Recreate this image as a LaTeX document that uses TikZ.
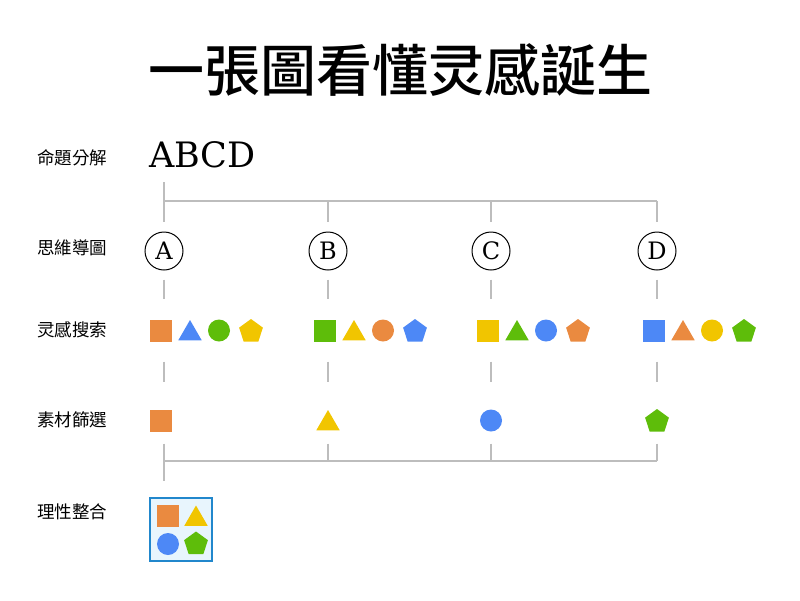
\documentclass[tikz,border=0pt]{standalone}
\usepackage{fontspec}
\newfontfamily\cjk{Noto Sans CJK TC}
\newfontfamily\cjkhead{Noto Sans CJK TC Medium}
\newfontfamily\slab{DejaVu Serif}
\usepackage{tikz}
\usetikzlibrary{shapes.geometric}
\usepackage{xcolor}

\definecolor{orng}{HTML}{EA8A40}
\definecolor{blu}{HTML}{4D88F6}
\definecolor{grn}{HTML}{5EBD0A}
\definecolor{ylw}{HTML}{F1C500}
\definecolor{lgray}{HTML}{BDBDBD}
\definecolor{boxfill}{HTML}{E8F5FD}
\definecolor{boxline}{HTML}{2187CC}

\begin{document}
\begin{tikzpicture}[x=1pt, y=-1pt,
  link/.style={draw=lgray, line width=1.5pt},
  rowlabel/.style={anchor=west, inner sep=0, font=\cjk\fontsize{17.5}{17.5}\selectfont},
  letter/.style={circle, draw, line width=1pt, minimum size=38pt, inner sep=0, font=\slab\fontsize{24}{24}\selectfont},
  sq/.style={rectangle, fill=#1, minimum size=22pt, inner sep=0},
  tri/.style={regular polygon, regular polygon sides=3, fill=#1, minimum size=27pt, inner sep=0, yshift=-3pt},
  dot/.style={circle, fill=#1, minimum size=22pt, inner sep=0},
  pent/.style={regular polygon, regular polygon sides=5, fill=#1, minimum size=25pt, inner sep=0, yshift=-1pt}]
  \useasboundingbox (0,0) rectangle (800,600);

  \node[font=\cjkhead\fontsize{56}{56}\selectfont] (title) at (400,70) {一張圖看懂灵感誕生};

  % row labels
  \node[rowlabel] (l1) at (37,158) {命題分解};
  \node[rowlabel] (l2) at (37,248) {思維導圖};
  \node[rowlabel] (l3) at (37,330) {灵感搜索};
  \node[rowlabel] (l4) at (37,420) {素材篩選};
  \node[rowlabel] (l5) at (37,512) {理性整合};

  \node[anchor=base west, inner sep=0, font=\slab\fontsize{35}{35}\selectfont] (abcd) at (149,167) {ABCD};

  % columns
  \foreach \c/\x/\ca/\cb/\cc/\cd in {A/164/orng/blu/grn/ylw, B/328/grn/ylw/orng/blu,
                                      C/491/ylw/grn/blu/orng, D/657/blu/orng/ylw/grn}{
    \node[letter] (c\c) at (\x,251) {\c};
    \node[sq=\ca]   (s\c1) at (\x-3,330.5) {};
    \node[tri=\cb]  (s\c2) at (\x+26,330.5) {};
    \node[dot=\cc]  (s\c3) at (\x+55,330.5) {};
    \node[pent=\cd] (s\c4) at (\x+87,330.5) {};
  }

  % picked ones
  \node[sq=orng]  (fA) at (161,420.5) {};
  \node[tri=ylw]  (fB) at (328,420.5) {};
  \node[dot=blu]  (fC) at (491,420.5) {};
  \node[pent=grn] (fD) at (657,420.5) {};

  \node[rectangle, draw=boxline, fill=boxfill, line width=1.2pt, minimum width=62pt, minimum height=63pt] (box) at (181,529.5) {};
  \node[sq=orng]  (bA) at (168,516) {};
  \node[tri=ylw]  (bB) at (196,516) {};
  \node[dot=blu]  (bC) at (168,544) {};
  \node[pent=grn] (bD) at (196,543) {};

  % connectors
  \coordinate (top) at (0,201);
  \coordinate (bot) at (0,461);
  \draw[link] ([yshift=-15pt]abcd.base -| cA) -- ([yshift=10pt]cA.north);
  \draw[link] (cA |- top) -- (cD |- top);
  \foreach \c in {B,C,D}
    \draw[link] (c\c |- top) -- ([yshift=10pt]c\c.north);
  \foreach \c in {A,B,C,D}{
    \draw[link] ([yshift=-9pt]c\c.south) -- ++(0,19);
    \draw[link] (c\c |- s\c1.south) ++(0,20) -- ++(0,20);
    \draw[link] (c\c |- fA.south) ++(0,12) -- (c\c |- bot);
  }
  \draw[link] (cA |- bot) -- (cD |- bot);
  \draw[link] (cA |- bot) -- ([yshift=16pt]box.north -| cA);
\end{tikzpicture}
\end{document}
